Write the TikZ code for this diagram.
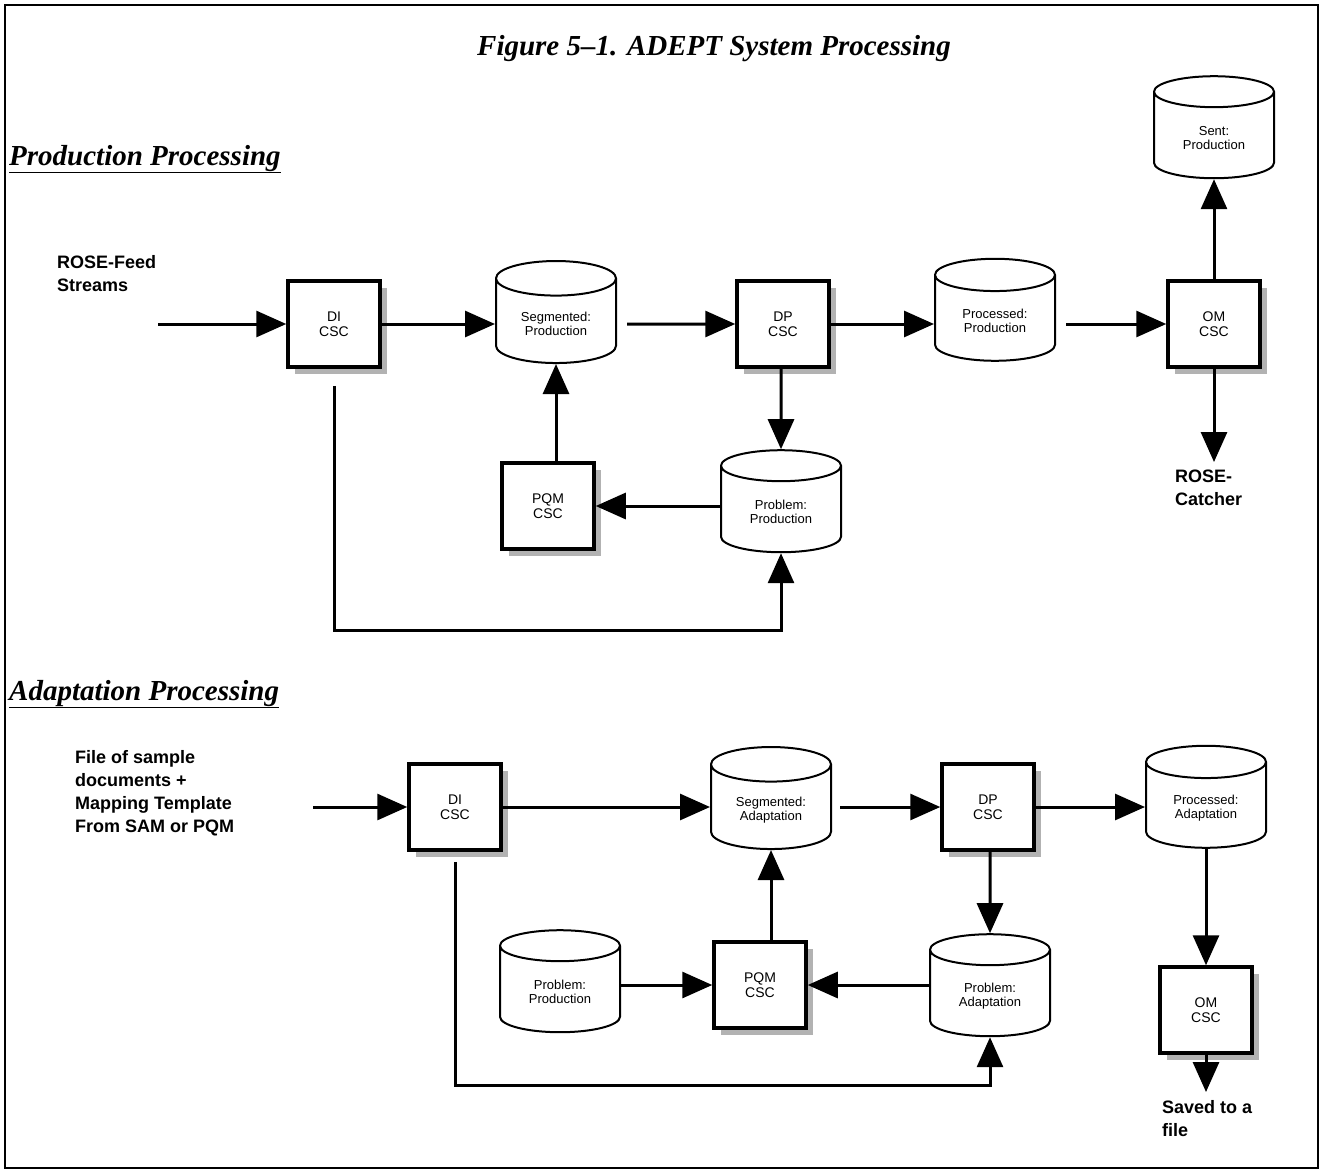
\documentclass[tikz,border=0pt]{standalone}
\usepackage{fontspec}
\setmainfont{Liberation Serif}
\setsansfont{Liberation Sans}
\usepackage{tikz}
\usetikzlibrary{arrows.meta,shapes.geometric,shadows,calc}

\begin{document}
\begin{tikzpicture}[x = 1pt, y = -1pt,
  csc/.style = {draw, line width = 3.5pt, fill = white, minimum width = 92pt, minimum height = 86pt, align = center, font = \sffamily\fontsize{14}{15}\selectfont, drop shadow = {shadow xshift = 7pt, shadow yshift = -7pt, fill = black!30, opacity = 1}},
  store/.style = {draw, line width = 2pt, fill = white, cylinder, shape border rotate = 90, aspect = 0.45, minimum width = 120pt, minimum height = 102pt, align = center, font = \sffamily\fontsize{13}{14}\selectfont},
  flow/.style = {-{Triangle[length = 30pt, width = 26pt]}, line width = 3pt},
  endtext/.style = {align = left, anchor = north west, inner sep = 0pt, font = \sffamily\bfseries\fontsize{18}{23}\selectfont},
  heading/.style = {anchor = base west, inner sep = 0pt, font = \bfseries\itshape\fontsize{29}{32}\selectfont}]
\useasboundingbox (0,0) rectangle (1323,1173);
\draw[line width = 2.5pt] (5,5) rectangle (1318,1168);
\node[heading, anchor = base] (title) at (714,55) {Figure 5–1. ADEPT System Processing};
\node[heading] (prodhead) at (9,165) {\underline{Production Processing}};
\node[heading] (adapthead) at (9,700) {\underline{Adaptation Processing}};

% production processing
\coordinate (inP) at (158,324);
\coordinate (loopP) at (0,630);
\node[endtext] (feed) at (57,255) {ROSE-Feed\\Streams};
\node[csc] (diP) at (334,324) {DI\\CSC};
\node[store] (segP) at (556,324) {Segmented:\\Production};
\node[csc] (dpP) at (783,324) {DP\\CSC};
\node[store] (procP) at (995,321) {Processed:\\Production};
\node[csc] (omP) at (1214,324) {OM\\CSC};
\node[store] (sentP) at (1214,138) {Sent:\\Production};
\node[endtext] (catcher) at (1175,470) {ROSE-\\Catcher};
\node[store] (probP) at (781,512) {Problem:\\Production};
\node[csc] (pqmP) at (548,506) {PQM\\CSC};
\draw[flow] (inP) -- (diP);
\draw[flow] (diP) -- (segP);
\draw[flow, shorten <= 10pt] (segP) -- (dpP);
\draw[flow] (dpP) -- (procP.west |- dpP);
\draw[flow, shorten <= 10pt] (procP.east |- omP) -- (omP);
\draw[flow] (omP) -- (sentP);
\draw[flow, shorten >= 8pt] (omP.south) -- (omP.south |- catcher.north);
\draw[flow] (dpP.south -| probP) -- (probP);
\draw[flow] (probP.west |- pqmP) -- (pqmP);
\draw[flow] (pqmP.north -| segP) -- (segP.south);
\draw[flow] ([yshift = -17pt]diP.south) -- (diP.south |- loopP) -| (probP.south);

% adaptation processing
\coordinate (inA) at (313,807);
\coordinate (loopA) at (0,1085);
\node[endtext] (file) at (75,750) {File of sample\\documents +\\Mapping Template\\From SAM or PQM};
\node[csc] (diA) at (455,807) {DI\\CSC};
\node[store] (segA) at (771,810) {Segmented:\\Adaptation};
\node[csc] (dpA) at (988,807) {DP\\CSC};
\node[store] (procA) at (1206,808) {Processed:\\Adaptation};
\node[csc] (omA) at (1206,1010) {OM\\CSC};
\node[endtext] (saved) at (1162,1100) {Saved to a\\file};
\node[store] (probA) at (990,996) {Problem:\\Adaptation};
\node[csc] (pqmA) at (760,985) {PQM\\CSC};
\node[store] (probPA) at (560,992) {Problem:\\Production};
\draw[flow] (inA) -- (diA);
\draw[flow] (diA) -- (segA.west |- diA);
\draw[flow, shorten <= 8pt] (segA.east |- dpA) -- (dpA);
\draw[flow] (dpA) -- (procA.west |- dpA);
\draw[flow] (procA) -- (omA);
\draw[flow, shorten >= 8pt] (omA.south) -- (omA.south |- saved.north);
\draw[flow] (dpA.south -| probA) -- (probA);
\draw[flow] (probA.west |- pqmA) -- (pqmA);
\draw[flow] (probPA.east |- pqmA) -- (pqmA);
\draw[flow] (pqmA.north -| segA) -- (segA.south);
\draw[flow] ([yshift = -10pt]diA.south) -- (diA.south |- loopA) -| (probA.south);
\end{tikzpicture}
\end{document}
